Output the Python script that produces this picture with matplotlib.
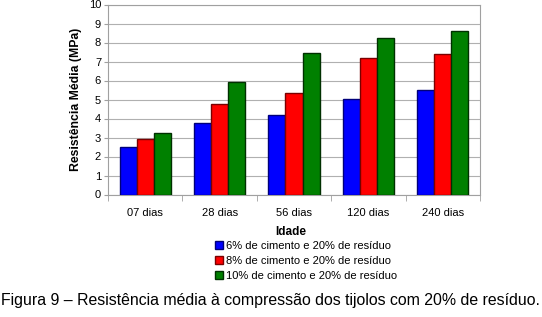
import matplotlib
matplotlib.use("Agg")
import matplotlib.pyplot as plt
import numpy as np

categories = ["07 dias", "28 dias", "56 dias", "120 dias", "240 dias"]
series_names = ["6% de cimento e 20% de resíduo",
                "8% de cimento e 20% de resíduo",
                "10% de cimento e 20% de resíduo"]
s6 = [2.5, 3.75, 4.17, 5.03, 5.5]
s8 = [2.9, 4.75, 5.33, 7.2, 7.38]
s10 = [3.22, 5.94, 7.43, 8.25, 8.6]
colors = ["#0000FF", "#FF0000", "#008000"]
edges = ["#00007A", "#7A0000", "#003000"]

plt.rcParams['font.family'] = ['Liberation Sans', 'DejaVu Sans']

fig = plt.figure(figsize=(5.42, 3.17), dpi=100)
ax = fig.add_axes([108/542, 1-194.5/317, 372/542, 190/317])

x = np.arange(len(categories))
w = 0.23
for i, (vals, c, e, n) in enumerate(zip([s6, s8, s10], colors, edges, series_names)):
    ax.bar(x + (i-1)*w, vals, w, color=c, edgecolor=e, linewidth=1.0, label=n, zorder=3)

ax.set_xlim(-0.5, len(categories)-0.5)
ax.set_ylim(0, 10)
ax.set_yticks(range(0, 11))
ax.yaxis.grid(True, color="#B0B0B0", linewidth=0.8, zorder=0)
ax.set_xticks(x)
ax.set_xticklabels(categories, fontsize=8)
ax.set_xticks(np.arange(-0.5, len(categories)), minor=True)
ax.tick_params(axis='x', which='major', length=0, pad=10)
ax.tick_params(axis='x', which='minor', length=4, color="#A0A0A0")
ax.tick_params(axis='y', length=3, color="#A0A0A0", labelsize=8, pad=2)
for s in ax.spines.values():
    s.set_color("#A0A0A0")
    s.set_linewidth(0.8)

ax.set_ylabel("Resistência Média (MPa)", fontsize=8.8, fontweight='bold', labelpad=5)
fig.text(291/542, 1-232/317, "Idade", fontsize=8.5, fontweight='bold', ha='center', va='center')

handles, labels = ax.get_legend_handles_labels()
fig.legend(handles, labels, loc='upper left', bbox_to_anchor=(207/542, 1-233/317),
           frameon=False, fontsize=8, handlelength=0.7, handleheight=0.7,
           handletextpad=0.3, labelspacing=0.45, borderpad=0.2)

fig.text(270/542, 1-301/317, "Figura 9 – Resistência média à compressão dos tijolos com 20% de resíduo.",
         fontsize=11.4, ha='center', va='center')

fig.savefig("out.png", dpi=100)
